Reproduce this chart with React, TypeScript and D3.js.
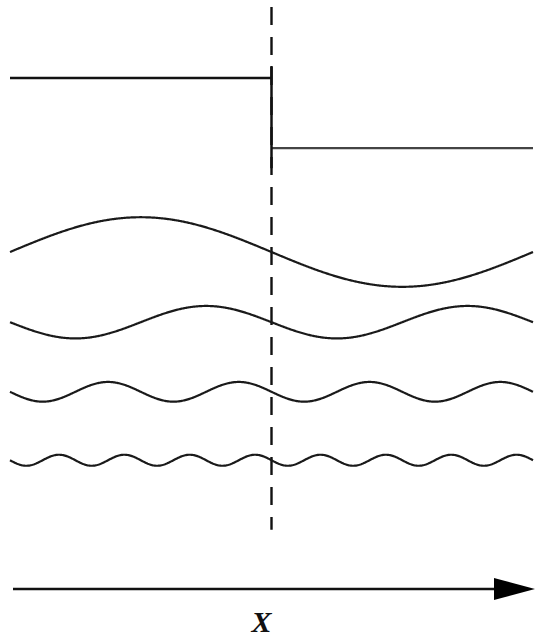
import React from "react";
import * as d3 from "d3";

// ---- data ----
const stepLevels = [88.1, 76.0]; // left level, right level
const stepBreak = 0.5; // position of discontinuity on x domain [0,1]
const waveCycles = [1, 2, 4, 8];
const waveCenters = [58.1, 46.0, 34.0, 22.2];
const waveAmplitudes = [6.0, 2.8, 1.7, 0.95];
const waveSigns = [1, -1, -1, -1];
const dashedRange = [100, 10.2];
const axisLabel = "X";

const W = 538;
const H = 637;

export default function App() {
  const x = d3.scaleLinear().domain([0, 1]).range([10, 533]);
  const y = d3.scaleLinear().domain([0, 100]).range([589, 9]);
  const line = d3
    .line<[number, number]>()
    .x((d) => x(d[0]))
    .y((d) => y(d[1]))
    .curve(d3.curveLinear);

  const ts = d3.range(0, 1.0001, 1 / 600);
  const waves = waveCycles.map((c, i) =>
    ts.map((t) => [t, waveCenters[i] + waveSigns[i] * waveAmplitudes[i] * Math.sin(2 * Math.PI * c * t)] as [number, number])
  );

  const leftPath = line([
    [0, stepLevels[0]],
    [stepBreak, stepLevels[0]],
  ])!;
  const rightPath = line([
    [stepBreak, stepLevels[1]],
    [1, stepLevels[1]],
  ])!;
  const xb = x(stepBreak);

  const axisY = y(0);
  const tipX = 535;
  const headLen = 41;
  const headHalf = 11;

  return (
    <svg width={W} height={H} style={{ position: "absolute", left: 0, top: 0, background: "#fff" }}>
      {/* dashed vertical */}
      <line
        x1={xb}
        x2={xb}
        y1={y(dashedRange[0]) - 2}
        y2={y(dashedRange[1])}
        stroke="#111"
        strokeWidth={2.4}
        strokeDasharray="18,12"
      />
      {/* step function */}
      <path d={leftPath} fill="none" stroke="#111" strokeWidth={2.3} />
      <path d={rightPath} fill="none" stroke="#444" strokeWidth={2.3} />
      <line x1={xb} x2={xb} y1={y(stepLevels[0]) - 12} y2={y(stepLevels[1]) + 20} stroke="#111" strokeWidth={2.5} />
      {/* waves */}
      {waves.map((w, i) => (
        <path key={i} d={line(w)!} fill="none" stroke="#1a1a1a" strokeWidth={2.2} />
      ))}
      {/* axis arrow */}
      <line x1={13} x2={tipX - headLen + 4} y1={axisY} y2={axisY} stroke="#111" strokeWidth={2.6} />
      <path
        d={`M${tipX},${axisY} L${tipX - headLen},${axisY - headHalf} L${tipX - headLen},${axisY + headHalf} Z`}
        fill="#000"
      />
      <text
        x={xb - 10}
        y={632}
        textAnchor="middle"
        fontFamily="'Liberation Serif', 'DejaVu Serif', serif"
        fontStyle="italic"
        fontWeight="bold"
        fontSize={30}
        fill="#111"
      >
        {axisLabel}
      </text>
    </svg>
  );
}
